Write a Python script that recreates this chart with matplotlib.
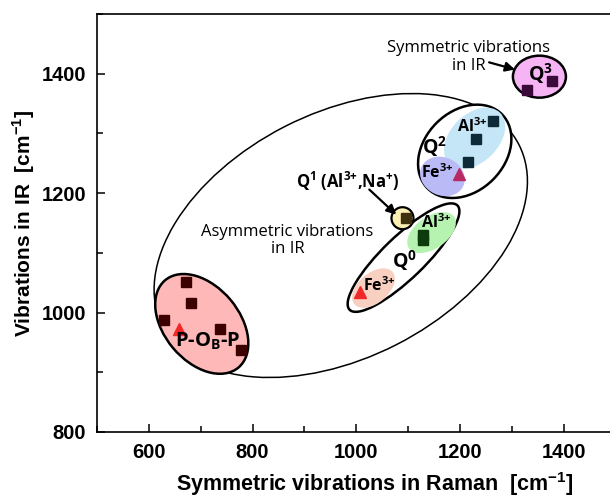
import numpy as np
import matplotlib
matplotlib.use("Agg")
import matplotlib.pyplot as plt
import matplotlib.transforms as mtransforms
from matplotlib.patches import Ellipse
from matplotlib.ticker import MultipleLocator

# measured points (Raman shift, IR wavenumber) in cm-1
pop_sq_x = [671, 682, 630, 738, 777]
pop_sq_y = [1051, 1016, 988, 973, 937]
pop_tri_x = [659]
pop_tri_y = [973]

q0_al_x = [1128, 1128]
q0_al_y = [1130, 1121]
q0_fe_x = [1008]
q0_fe_y = [1034]

q1_x = [1095]
q1_y = [1158]

q2_al_x = [1264, 1230, 1216]
q2_al_y = [1320, 1291, 1252]
q2_fe_x = [1197]
q2_fe_y = [1232]

q3_x = [1378, 1330]
q3_y = [1387, 1373]

ANNOT = "Open Sans"
AXFONT = "Liberation Sans"

fig = plt.figure(figsize=(6.10, 4.99), dpi=100)
ax = fig.add_axes([0.159, 0.1343, 0.9098, 0.8377])
ax.set_xlim(500, 1570)
ax.set_ylim(800, 1500)


def blob(cx, cy, w, h, ang, fc="none", ec="none", lw=1.8, z=1):
    # ellipse sized in pixels, centred on a data point
    tr = fig.dpi_scale_trans + mtransforms.ScaledTranslation(cx, cy, ax.transData)
    e = Ellipse((0, 0), w / 100, h / 100, angle=ang, transform=tr,
                facecolor=fc, edgecolor=ec, lw=lw, zorder=z)
    ax.add_patch(e)


# group outlines
blob(970, 1129, 400, 245, 27, ec="k", lw=1.1, z=1)
blob(702, 981, 114, 75, -50, fc="#ffb8b8", ec="k", z=2)
blob(1091, 1092, 150, 42, 44, fc="white", ec="k", z=2)
blob(1145, 1134, 55, 32, 35, fc="#b6f2b0", z=3)
blob(1033, 1041, 50, 30, 40, fc="#f8d0c2", z=3)
blob(1089, 1158, 22, 22, 0, fc="#fcefb4", ec="k", lw=1.6, z=4)
blob(1209, 1270, 105, 80, 45, fc="white", ec="k", z=2)
blob(1228, 1292, 72, 48, 45, fc="#c4e6f6", z=3)
blob(1166, 1228, 46, 38, -25, fc="#babaf6", z=3)
blob(1353, 1395, 53, 42, 0, fc="#f6b4f4", ec="k", z=2)

# data markers
ax.plot(pop_sq_x, pop_sq_y, "s", ms=7, color="#3d0000", zorder=6)
ax.plot(pop_tri_x, pop_tri_y, "^", ms=9, color="#f02828", zorder=6)
ax.plot(q0_al_x, q0_al_y, "s", ms=7, color="#0c3c0c", zorder=6)
ax.plot(q0_fe_x, q0_fe_y, "^", ms=9, color="#f02828", zorder=6)
ax.plot(q1_x, q1_y, "s", ms=7, color="#3f3010", zorder=6)
ax.plot(q2_al_x, q2_al_y, "s", ms=7, color="#0e2a38", zorder=6)
ax.plot(q2_fe_x, q2_fe_y, "^", ms=9, color="#b82a62", zorder=6)
ax.plot(q3_x, q3_y, "s", ms=7, color="#3b0a3b", zorder=6)

# labels
bold = dict(family=ANNOT, fontweight="bold", ha="center", va="center", zorder=7)
ax.text(714, 952, r"P-O$_{\mathregular{B}}$-P", fontsize=14.5, **bold)
ax.text(1093, 1087, r"Q$^{\mathregular{0}}$", fontsize=14, **bold)
ax.text(1154, 1150, r"Al$^{\mathregular{3{+}}}$", fontsize=11.5, **bold)
ax.text(1045, 1045, r"Fe$^{\mathregular{3{+}}}$", fontsize=11.5, **bold)
ax.text(1150, 1278, r"Q$^{\mathregular{2}}$", fontsize=14, **bold)
ax.text(1224, 1311, r"Al$^{\mathregular{3{+}}}$", fontsize=11.5, **bold)
ax.text(1157, 1234, r"Fe$^{\mathregular{3{+}}}$", fontsize=11.5, **bold)
ax.text(983, 1220, r"Q$^{\mathregular{1}}$ (Al$^{\mathregular{3{+}}}$,Na$^{\mathregular{{+}}}$)",
        fontsize=12, **bold)
ax.text(1356, 1400, r"Q$^{\mathregular{3}}$", fontsize=14, **bold)

ax.text(867, 1120, "Asymmetric vibrations\nin IR", family=ANNOT, fontsize=12,
        ha="center", va="center", linespacing=1.1)
ax.text(1217, 1428, "Symmetric vibrations\nin IR", family=ANNOT, fontsize=12,
        ha="center", va="center", linespacing=1.1)

arrow = dict(arrowstyle="-|>", color="k", lw=1.6, mutation_scale=14, shrinkA=0, shrinkB=0)
ax.annotate("", xy=(1077, 1164), xytext=(1025, 1206), arrowprops=arrow, zorder=7)
ax.annotate("", xy=(1306, 1407), xytext=(1256, 1419), arrowprops=arrow, zorder=7)

# axes styling
ax.xaxis.set_major_locator(MultipleLocator(200))
ax.xaxis.set_minor_locator(MultipleLocator(100))
ax.yaxis.set_major_locator(MultipleLocator(200))
ax.yaxis.set_minor_locator(MultipleLocator(100))
ax.tick_params(which="both", direction="in", width=1.1, top=False, right=False, pad=8)
ax.tick_params(which="major", length=6)
ax.tick_params(which="minor", length=4)
for lab in ax.get_xticklabels() + ax.get_yticklabels():
    lab.set_family(AXFONT)
    lab.set_fontweight("bold")
    lab.set_fontsize(14.5)
for sp in ax.spines.values():
    sp.set_linewidth(1.2)

ax.set_xlabel(r"Symmetric vibrations in Raman  [cm$^{\mathregular{-1}}$]",
              family=AXFONT, fontweight="bold", fontsize=15.5, labelpad=6)
ax.set_ylabel(r"Vibrations in IR  [cm$^{\mathregular{-1}}$]",
              family=AXFONT, fontweight="bold", fontsize=15, labelpad=3)

fig.savefig("out.png", dpi=100)
